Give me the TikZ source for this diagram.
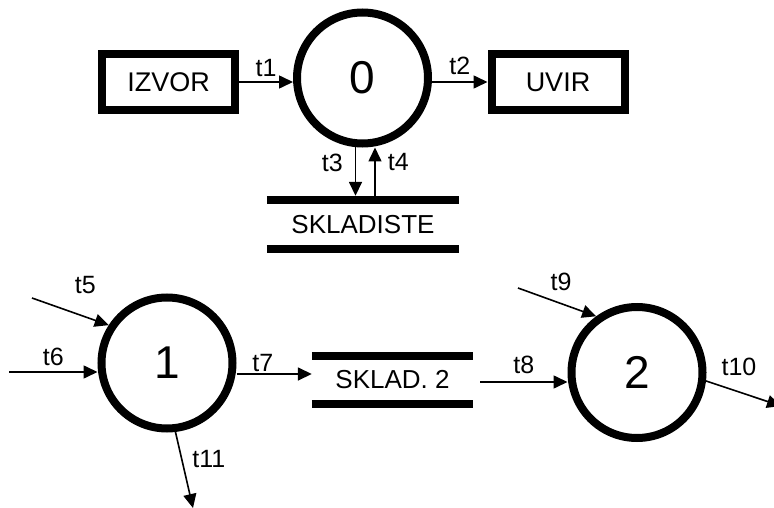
\documentclass[tikz,border=0pt]{standalone}
\usepackage{fontspec}
\setmainfont{Liberation Sans}
\usetikzlibrary{arrows.meta,positioning}
\tikzset{
  ent/.style={rectangle, draw, line width=8pt, minimum width=133pt, minimum height=56pt,
              inner sep=0pt, font=\fontsize{27}{30}\selectfont},
  proc/.style={circle, draw, line width=8pt, minimum size=131pt, inner sep=0pt,
               font=\fontsize{46}{50}\selectfont},
  store/.style={rectangle, minimum height=49pt, inner sep=0pt, font=\fontsize{26}{30}\selectfont},
  bar/.style={line width=8pt},
  flow/.style={-{Triangle[length=14pt,width=13pt]}, line width=1.6pt},
  lab/.style={font=\fontsize{25}{27}\selectfont, inner sep=1pt},
}
\begin{document}
\begin{tikzpicture}[x=1pt, y=-1pt]
\useasboundingbox (0,0) rectangle (774,508);
% process 0 with source, sink and store
\node[proc] (c0) at (362.5,78) {0};
\node[ent] (izvor) at (168.5,82) {IZVOR};
\node[ent] (uvir) at (558,82) {UVIR};
\node[store, minimum width=192pt] (s1) at (363,224.5) {SKLADISTE};
\draw[bar] (s1.north west) -- (s1.north east);
\draw[bar] (s1.south west) -- (s1.south east);
\draw[flow] (izvor.east) -- (izvor.east -| c0.west) node[lab, midway, above=4pt] {t1};
\draw[flow] (c0.east |- uvir.west) -- (uvir.west) node[lab, midway, above=6pt] {t2};
\coordinate (t3a) at ([xshift=-7pt]c0.south);
\draw[flow, shorten >=4pt] (t3a) -- (t3a |- s1.north) node[lab, pos=0.3, left=11pt] {t3};
\coordinate (t4a) at ([xshift=12pt,yshift=4pt]s1.north);
\draw[flow] (t4a) -- (t4a |- c0.south) node[lab, pos=0.7, right=11pt] {t4};
% process 1
\node[proc] (c1) at (167,363) {1};
\node[store, minimum width=161pt, minimum height=48pt] (s2) at (392.5,380) {SKLAD. 2};
\draw[bar] (s2.north west) -- (s2.north east);
\draw[bar] (s2.south west) -- (s2.south east);
\coordinate (t5a) at (32,298);
\draw[flow] (t5a) -- (c1.147) node[lab, midway, shift={(15,-27)}] {t5};
\coordinate (t6a) at (9,372);
\draw[flow] (t6a) -- (t6a -| c1.west) node[lab, midway, above=4pt] {t6};
\coordinate (t7a) at ([yshift=-11pt]c1.east);
\draw[flow] (t7a) -- (t7a -| s2.west) node[lab, pos=0.35, above=1pt] {t7};
\coordinate (t11b) at (193,508);
\draw[flow] (c1.277) -- (t11b) node[lab, pos=0.35, right=9pt] {t11};
% process 2
\node[proc] (c2) at (637,372.5) {2};
\coordinate (t8a) at (480,382);
\draw[flow] (t8a) -- (t8a -| c2.west) node[lab, midway, above=6pt] {t8};
\coordinate (t9a) at (518,288);
\draw[flow] (t9a) -- (c2.126) node[lab, midway, shift={(4,-20)}] {t9};
\coordinate (t10b) at (781,406);
\draw[flow] (c2.353) -- (t10b) node[lab, pos=0.4, shift={(3,-24)}] {t10};
\end{tikzpicture}
\end{document}
